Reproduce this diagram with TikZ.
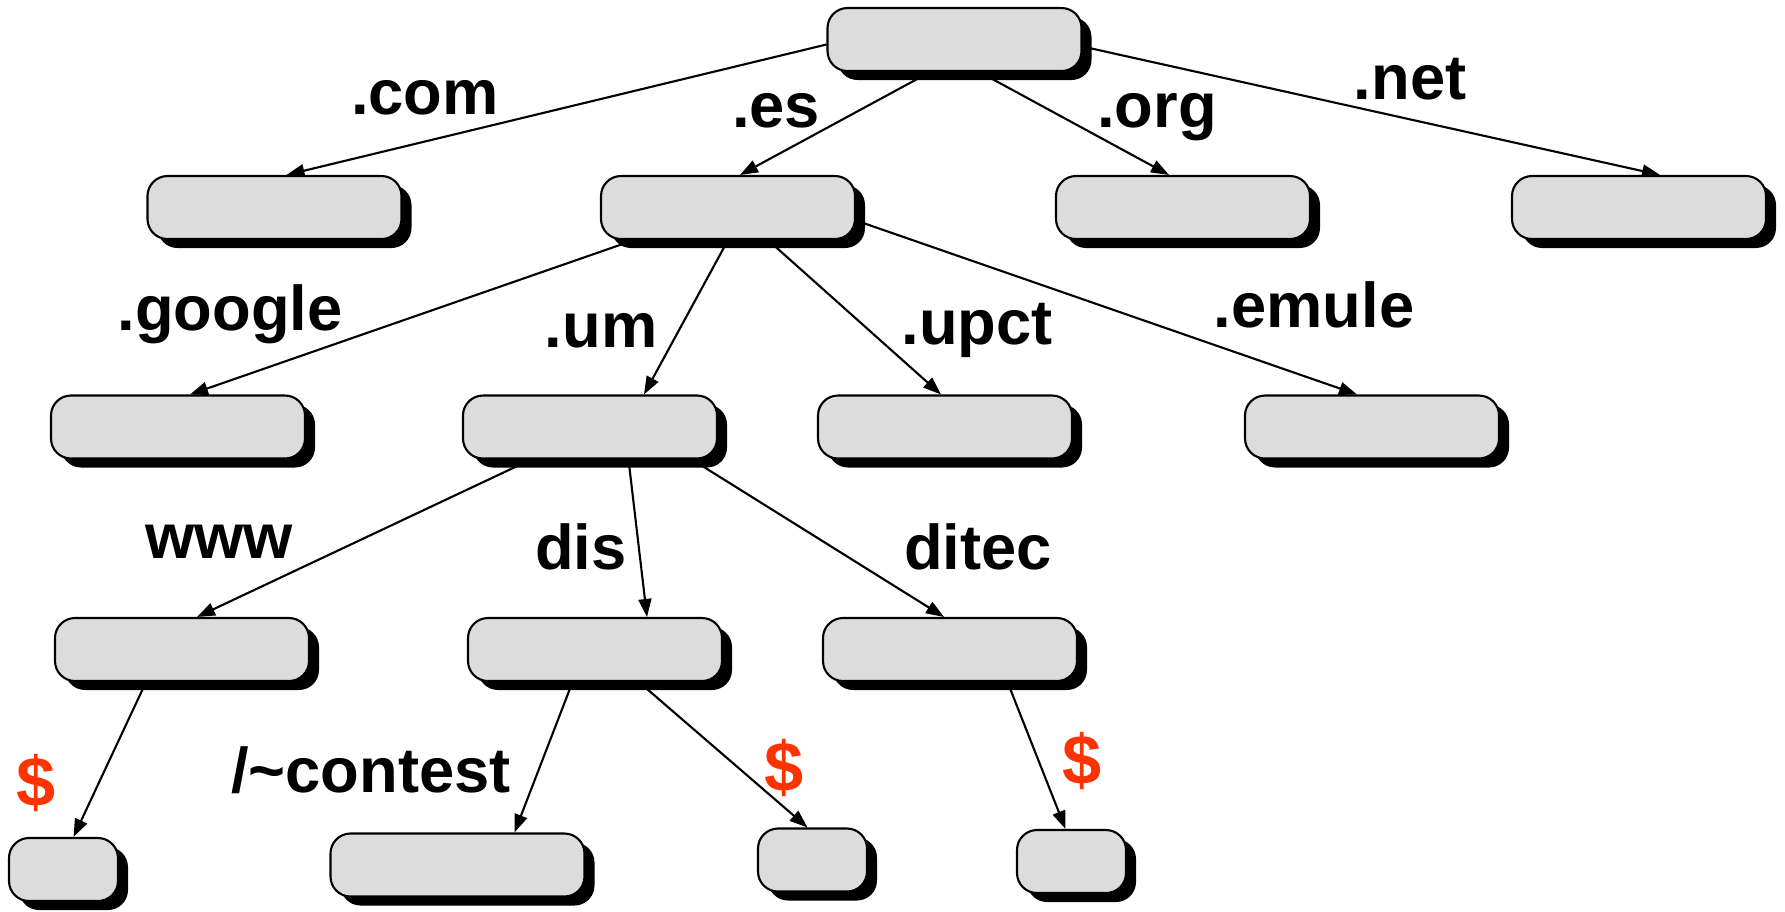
\documentclass[tikz,border=0pt]{standalone}
\usepackage{fontspec}
\setmainfont{Liberation Sans}
\usepackage{xcolor}
\usepackage{tikz}
\usetikzlibrary{
  arrows.meta,
  shadows,
  backgrounds
}
\definecolor{boxgray}{HTML}{DCDCDC}
\definecolor{dollarred}{HTML}{FF3300}

\begin{document}
\begin{tikzpicture}[
      box/.style={rectangle, draw, fill=boxgray, rounded corners=0.2cm, inner sep=0pt, minimum width=2.54cm, minimum height=0.63cm, line width=0.6pt, drop shadow={shadow xshift=0.1cm, shadow yshift=-0.09cm, fill=black, opacity=1}},
      smallbox/.style={box, minimum width=1.09cm},
      lbl/.style={font=\fontsize{18}{20}\selectfont\bfseries, anchor=base, inner sep=0pt},
      dollar/.style={lbl, font=\fontsize{20}{22}\selectfont\bfseries, text=dollarred},
      arrow/.style={-{Triangle[length=0.18cm, width=0.13cm]}, line width=0.6pt}
    ]
      \useasboundingbox (0,0) rectangle (17.85,-9.11);

      % Boxes
      \node[box] (root) at (9.545,-0.395) {};
      \node[box] (com) at (2.745,-2.075) {};
      \node[box] (es) at (7.28,-2.075) {};
      \node[box] (org) at (11.83,-2.075) {};
      \node[box] (net) at (16.39,-2.075) {};
      \node[box] (google) at (1.78,-4.27) {};
      \node[box] (um) at (5.90,-4.27) {};
      \node[box] (upct) at (9.45,-4.27) {};
      \node[box] (emule) at (13.72,-4.27) {};
      \node[box] (www) at (1.82,-6.495) {};
      \node[box] (dis) at (5.95,-6.495) {};
      \node[box] (ditec) at (9.50,-6.495) {};
      \node[smallbox] (wwwleaf) at (0.635,-8.695) {};
      \node[box] (contest) at (4.575,-8.65) {};
      \node[smallbox] (disleaf) at (8.125,-8.60) {};
      \node[smallbox] (ditecleaf) at (10.715,-8.615) {};

      % Arrows
      \begin{scope}[on background layer]
        \draw[arrow] ([yshift=-0.05cm]root.west) -- ([xshift=0.12cm]com.north);
        \draw[arrow] ([xshift=-0.245cm]root.south) -- ([xshift=0.12cm]es.north);
        \draw[arrow] ([xshift=0.25cm]root.south) -- ([xshift=-0.14cm]org.north);
        \draw[arrow] ([yshift=-0.07cm]root.east) -- ([xshift=0.21cm]net.north);
        \draw[arrow] ([xshift=-0.94cm]es.south) -- ([xshift=0.12cm]google.north);
        \draw[arrow] (es.south) -- ([xshift=0.54cm]um.north);
        \draw[arrow] ([xshift=0.40cm]es.south) -- ([xshift=-0.04cm]upct.north);
        \draw[arrow] ([yshift=-0.13cm]es.east) -- ([xshift=-0.15cm]emule.north);
        \draw[arrow] ([xshift=-0.59cm]um.south) -- ([xshift=0.15cm]www.north);
        \draw[arrow] ([xshift=0.385cm]um.south) -- ([xshift=0.52cm]dis.north);
        \draw[arrow] ([xshift=1.02cm]um.south) -- ([xshift=-0.06cm]ditec.north);
        \draw[arrow] ([xshift=-0.36cm]www.south) -- ([xshift=0.10cm]wwwleaf.north);
        \draw[arrow] ([xshift=-0.225cm]dis.south) -- ([xshift=0.57cm]contest.north);
        \draw[arrow] ([xshift=0.44cm]dis.south) -- ([xshift=-0.05cm]disleaf.north);
        \draw[arrow] ([xshift=0.575cm]ditec.south) -- ([xshift=-0.06cm]ditecleaf.north);
      \end{scope}

      % Labels
      \node[lbl] (lcom) at (4.25,-1.14) {.com};
      \node[lbl] (les) at (7.76,-1.27) {.es};
      \node[lbl] (lorg) at (11.57,-1.27) {.org};
      \node[lbl] (lnet) at (14.10,-0.99) {.net};
      \node[lbl] (lgoogle) at (2.30,-3.30) {.google};
      \node[lbl] (lum) at (6.01,-3.47) {.um};
      \node[lbl] (lupct) at (9.77,-3.44) {.upct};
      \node[lbl] (lemule) at (13.14,-3.27) {.emule};
      \node[lbl] (lwww) at (2.19,-5.58) {www};
      \node[lbl] (ldis) at (5.81,-5.69) {dis};
      \node[lbl] (lditec) at (9.78,-5.69) {ditec};
      \node[dollar] (lwwwleaf) at (0.36,-8.06) {\$};
      \node[lbl] (lcontest) at (3.71,-7.92) {/\textasciitilde contest};
      \node[dollar] (ldisleaf) at (7.84,-7.91) {\$};
      \node[dollar] (lditecleaf) at (10.82,-7.84) {\$};
    \end{tikzpicture}
\end{document}
